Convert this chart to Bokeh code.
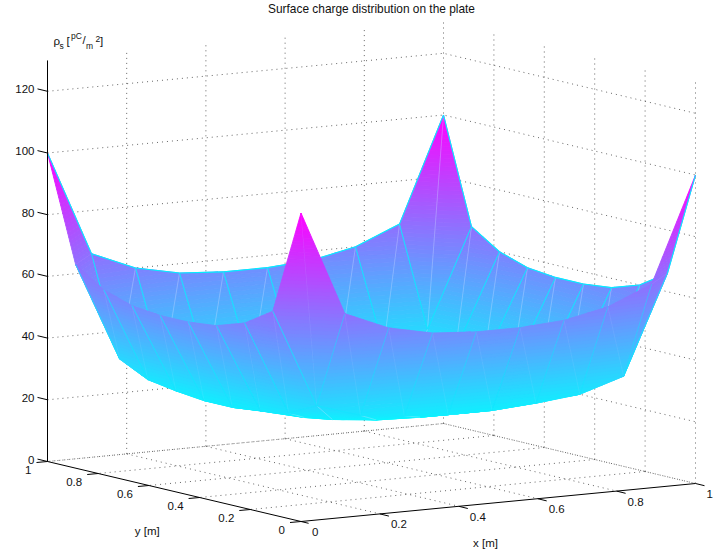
from bokeh.plotting import figure
from bokeh.models import Range1d, ColumnDataSource
from bokeh.core.properties import value
from bokeh.embed import file_html
from bokeh.resources import INLINE

TITLE = "Surface charge distribution on the plate"
x_ticks = [0, 0.2, 0.4, 0.6, 0.8, 1]
y_ticks = [0, 0.2, 0.4, 0.6, 0.8, 1]
z_ticks = [0, 20, 40, 60, 80, 100, 120]
tick_labels_xy = ["0", "0.2", "0.4", "0.6", "0.8", "1"]
z_top = 130

# rho_s [pC/m^2] on a 10 x 10 grid, charge[i][j]: i along x, j along y
charge = [
    [100, 66, 60, 57, 56, 56, 57, 60, 66, 100],
    [66, 34, 29.5, 28, 27, 27, 28, 29.5, 34, 66],
    [60, 29.5, 26, 24.5, 24, 24, 24.5, 26, 29.5, 60],
    [57, 28, 24.5, 23, 22.5, 22.5, 23, 24.5, 28, 57],
    [56, 27, 24, 22.5, 22, 22, 22.5, 24, 27, 56],
    [56, 27, 24, 22.5, 22, 22, 22.5, 24, 27, 56],
    [57, 28, 24.5, 23, 22.5, 22.5, 23, 24.5, 28, 57],
    [60, 29.5, 26, 24.5, 24, 24, 24.5, 26, 29.5, 60],
    [66, 34, 29.5, 28, 27, 27, 28, 29.5, 34, 66],
    [100, 66, 60, 57, 56, 56, 57, 60, 66, 100],
]

# view: screen position of the floor corners and height of a z unit
F00, F10, F01, F11 = (300.5, 521.0), (695.0, 483.0), (47.0, 461.0), (443.0, 423.0)
Z_PX = 3.085
FONT = "Liberation Sans"


def proj(x, y, z=0.0):
    sx = (1-x)*(1-y)*F00[0] + x*(1-y)*F10[0] + (1-x)*y*F01[0] + x*y*F11[0]
    sy = (1-x)*(1-y)*F00[1] + x*(1-y)*F10[1] + (1-x)*y*F01[1] + x*y*F11[1]
    return sx, sy - Z_PX*z


zs = [v for row in charge for v in row]
zmin, zmax = min(zs), max(zs)
LEVELS = 64


def cool(z):
    t = max(0.0, min(1.0, (z - zmin)/(zmax - zmin)))
    return "#%02x%02xff" % (round(255*t), round(255*(1-t)))


def clip(poly, lim, keep_above):
    out = []
    for k in range(len(poly)):
        a, b = poly[k], poly[(k+1) % len(poly)]
        ina = a[2] >= lim if keep_above else a[2] <= lim
        inb = b[2] >= lim if keep_above else b[2] <= lim
        if ina:
            out.append(a)
        if ina != inb:
            t = (lim - a[2])/(b[2] - a[2])
            out.append((a[0]+t*(b[0]-a[0]), a[1]+t*(b[1]-a[1]), lim))
    return out


patches = dict(xs=[], ys=[], fill=[], line=[], width=[], alpha=[], falpha=[])


def add_patch(xs, ys, fill, line, width, alpha, falpha):
    patches["xs"].append(xs); patches["ys"].append(ys)
    patches["fill"].append(fill); patches["line"].append(line)
    patches["width"].append(width); patches["alpha"].append(alpha)
    patches["falpha"].append(falpha)


def node(i, j):
    z = charge[i][j]
    sx, sy = proj(i/9, j/9, z)
    return (sx, sy, z)


def tri(a, b, c):
    step = (zmax - zmin)/LEVELS
    lo, hi = min(a[2], b[2], c[2]), max(a[2], b[2], c[2])
    k = int((lo - zmin)/step)
    while zmin + k*step < hi:
        p = clip([a, b, c], zmin + k*step, True)
        if p:
            p = clip(p, zmin + (k+1)*step, False)
        if len(p) >= 3:
            col = cool(zmin + (k+0.5)*step)
            add_patch([q[0] for q in p], [q[1] for q in p], col, col, 0.9, 1.0, 1.0)
        k += 1


def edge(a, b, col, w, alpha):
    add_patch([a[0], b[0]], [a[1], b[1]], col, col, w, alpha, 0.0)


CYAN = "#14e4ff"
PALE = "#cfe0ff"
for i in range(8, -1, -1):
    for j in range(8, -1, -1):
        a, b, c, d = node(i, j), node(i+1, j), node(i+1, j+1), node(i, j+1)
        tri(a, b, c)
        tri(a, c, d)
        near = i == 0 or j == 0
        edge(a, c, PALE, 0.5, 0.1 if near else 0.38)
        if i == 8:
            edge(b, c, "#00f0ff", 1.1, 1.0)
        elif j == 8:
            edge(b, c, CYAN, 0.8, 0.85)
        elif j == 0 or (i == 0 and j == 1):
            edge(b, c, CYAN, 0.6, 0.45)
        if j == 8:
            edge(d, c, "#00f0ff", 1.1, 1.0)
        elif i == 8:
            edge(d, c, CYAN, 0.8, 0.85)
        elif i == 0 or (i == 1 and j == 0):
            edge(d, c, CYAN, 0.7, 0.7)

p = figure(width=719, height=552, x_range=Range1d(0, 719), y_range=Range1d(552, 0),
           x_axis_type=None, y_axis_type=None, toolbar_location=None,
           output_backend="svg", min_border=0, outline_line_color=None,
           background_fill_color="white", border_fill_color="white")
p.grid.visible = False

GRID = dict(line_color="#555555", line_width=0.9, line_dash="1 4")
for xt in x_ticks[1:]:
    q0, q1 = proj(xt, 1, 0), proj(xt, 1, z_top)
    p.line([q0[0], q1[0]], [q0[1], q1[1]], **GRID)
    q2 = proj(xt, 0, 0)
    p.line([q0[0], q2[0]], [q0[1], q2[1]], **GRID)
for yt in y_ticks[1:-1] + [0]:
    q0, q1 = proj(1, yt, 0), proj(1, yt, z_top)
    p.line([q0[0], q1[0]], [q0[1], q1[1]], **GRID)
for yt in y_ticks[1:]:
    q0, q2 = proj(1, yt, 0), proj(0, yt, 0)
    p.line([q0[0], q2[0]], [q0[1], q2[1]], **GRID)
for zt in z_ticks:
    pts = [proj(0, 1, zt), proj(1, 1, zt), proj(1, 0, zt)]
    p.line([q[0] for q in pts], [q[1] for q in pts], **GRID)

p.patches("xs", "ys", source=ColumnDataSource(patches), fill_color="fill", fill_alpha="falpha",
          line_color="line", line_width="width", line_alpha="alpha")

AX = dict(line_color="black", line_width=1.0)
q = [proj(0, 1, 0), proj(0, 1, z_top)]
p.line([q[0][0], q[1][0]], [q[0][1], q[1][1]], **AX)
q = [proj(0, 1, 0), proj(0, -0.03, 0)]
p.line([q[0][0], q[1][0]], [q[0][1], q[1][1]], **AX)
q = [proj(0, 0, 0), proj(1, 0, 0)]
p.line([q[0][0], q[1][0]], [q[0][1], q[1][1]], **AX)

TEXT = dict(text_font=value(FONT), text_font_size="11.5px", text_color="#111111")
for zt in z_ticks:
    sx, sy = proj(0, 1, zt)
    p.line([sx, sx-10], [sy, sy-2.4], **AX)
    p.text([sx-13], [sy-2], text=[str(zt)], text_align="right", text_baseline="middle", **TEXT)
for yt, lab in zip(y_ticks, tick_labels_xy):
    sx, sy = proj(0, yt, 0)
    p.line([sx, sx-11], [sy, sy+1], **AX)
    p.text([sx-16], [sy+8], text=[lab], text_align="right", text_baseline="middle", **TEXT)
for xt, lab in zip(x_ticks, tick_labels_xy):
    sx, sy = proj(xt, 0, 0)
    if xt > 0:
        p.line([sx, sx+9], [sy, sy+2.2], **AX)
    p.text([sx+11], [sy+10.5], text=[lab], text_align="left", text_baseline="middle", **TEXT)

p.text([371], [8], text=[TITLE], text_align="center", text_baseline="middle",
       text_font=value(FONT), text_font_size="11.9px", text_color="#111111")
p.text([146.7], [530], text=["y [m]"], text_align="center", text_baseline="middle", **TEXT)
p.text([485], [542], text=["x [m]"], text_align="center", text_baseline="middle", **TEXT)

SMALL = dict(text_font=value(FONT), text_font_size="8.5px", text_color="#111111",
             text_align="left", text_baseline="middle")
MAIN = dict(text_font=value(FONT), text_font_size="11.5px", text_color="#111111",
            text_align="left", text_baseline="middle")
p.text([53], [40], text=["ρ"], **MAIN)
p.text([59], [45], text=["s"], **SMALL)
p.text([66], [40], text=["["], **MAIN)
p.text([70.5], [35], text=["pC"], **SMALL)
p.text([82], [39], text=["/"], **MAIN)
p.text([85.5], [45.5], text=["m"], **SMALL)
p.text([95], [38], text=["2"], **SMALL)
p.text([99.5], [40], text=["]"], **MAIN)

open("out.html", "w").write(file_html(p, INLINE))
